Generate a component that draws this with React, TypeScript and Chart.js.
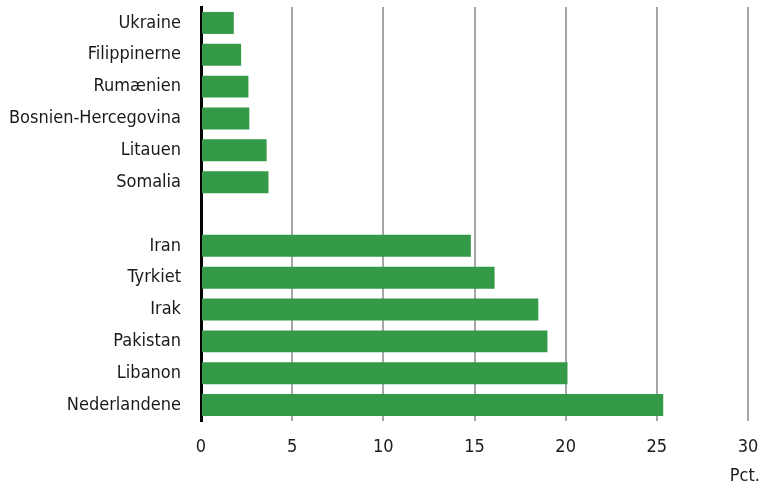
import React, { useEffect, useRef } from "react";
import { Chart, registerables } from "chart.js";

Chart.register(...registerables);

const categories: string[] = [
  "Ukraine",
  "Filippinerne",
  "Rumænien",
  "Bosnien-Hercegovina",
  "Litauen",
  "Somalia",
  "",
  "Iran",
  "Tyrkiet",
  "Irak",
  "Pakistan",
  "Libanon",
  "Nederlandene",
];

const values: (number | null)[] = [1.8, 2.2, 2.6, 2.65, 3.6, 3.7, null, 14.8, 16.1, 18.5, 19.0, 20.1, 25.35];

const xTicks: number[] = [0, 5, 10, 15, 20, 25, 30];
const axisTitle = "Pct.";

const FONT = '"Liberation Sans Narrow", "DejaVu Sans Condensed", "Open Sans", sans-serif';

const unitLabelPlugin = {
  id: "unitLabel",
  afterDraw(chart: any) {
    const { ctx, chartArea } = chart;
    ctx.save();
    ctx.font = `18px ${FONT}`;
    ctx.fillStyle = "#1a1a1a";
    ctx.textAlign = "right";
    ctx.textBaseline = "middle";
    ctx.fillText(axisTitle, chartArea.right + 12, chartArea.bottom + 55);
    ctx.restore();
  },
};

export default function App() {
  const ref = useRef<HTMLCanvasElement | null>(null);

  useEffect(() => {
    if (!ref.current) return;
    const chart = new Chart(ref.current, {
      type: "bar",
      data: {
        labels: categories,
        datasets: [
          {
            data: values,
            backgroundColor: "#359a48",
            borderWidth: 0,
            categoryPercentage: 1,
            barPercentage: 0.69,
          },
        ],
      },
      plugins: [unitLabelPlugin],
      options: {
        indexAxis: "y",
        animation: false,
        responsive: false,
        maintainAspectRatio: false,
        layout: { padding: { top: 7, right: 21, left: 0, bottom: 0 } },
        plugins: {
          legend: { display: false },
          tooltip: { enabled: false },
        },
        scales: {
          x: {
            min: xTicks[0],
            max: xTicks[xTicks.length - 1],
            afterBuildTicks: (scale: any) => {
              scale.ticks = xTicks.map((v) => ({ value: v }));
            },
            afterFit: (scale: any) => {
              scale.height = 65;
              scale.paddingLeft = 0;
              scale.paddingRight = 0;
            },
            grid: {
              color: "#a6a6a6",
              lineWidth: 2,
              drawTicks: false,
            },
            border: { display: false },
            ticks: {
              color: "#1a1a1a",
              font: { family: FONT, size: 18 },
              padding: 16,
              maxRotation: 0,
            },
          },
          y: {
            afterFit: (scale: any) => {
              scale.width = 201;
              scale.paddingTop = 0;
              scale.paddingBottom = 0;
            },
            grid: { display: false, drawTicks: false },
            border: { display: true, color: "#000000", width: 3 },
            ticks: {
              color: "#1a1a1a",
              font: { family: FONT, size: 18 },
              padding: 20,
              autoSkip: false,
            },
          },
        },
      } as any,
    });
    return () => chart.destroy();
  }, []);

  return (
    <div style={{ position: "fixed", left: 0, top: 0, width: 769, height: 486, background: "#fff" }}>
      <canvas ref={ref} width={769} height={486} style={{ width: 769, height: 486 }} />
    </div>
  );
}
